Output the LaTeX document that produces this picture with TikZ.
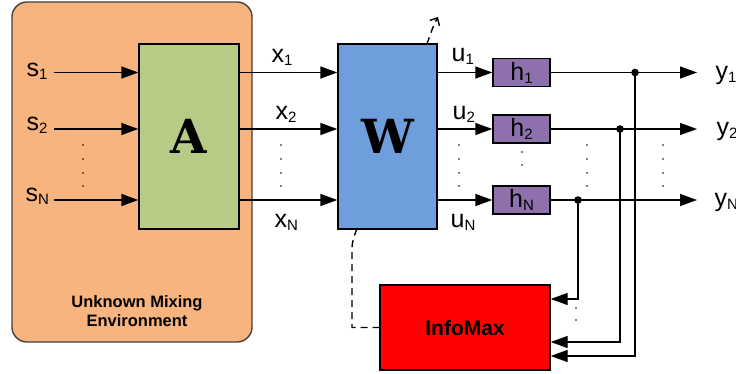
\documentclass[tikz,border=0pt]{standalone}
\usepackage{fontspec}
\setmainfont{Liberation Sans}
\newfontfamily\bigserif{DejaVu Serif}
\usetikzlibrary{arrows.meta}
\definecolor{envorange}{HTML}{F8B47E}
\definecolor{envedge}{HTML}{404040}
\definecolor{agreen}{HTML}{B8CB86}
\definecolor{wblue}{HTML}{6E9EDB}
\definecolor{hpurple}{HTML}{8E70AC}
\definecolor{imred}{HTML}{FF0000}
\newcommand\lbl[2]{{\fontsize{25}{25}\selectfont #1\raisebox{-3pt}{\fontsize{15}{15}\selectfont #2}}}
\begin{document}
\begin{tikzpicture}[x=1pt,y=-1pt,line width=1.4pt,
  arr/.style={-{Triangle[length=17pt,width=12pt]}},
  blk/.style={draw=black,line width=1.4pt,inner sep=0pt},
  lab/.style={inner sep=0pt,anchor=base west},
  dotmark/.style={fill=black}]
\useasboundingbox (0,0) rectangle (736,374);
% environment
\node[draw=envedge,fill=envorange,rounded corners=15pt,minimum width=240pt,minimum height=340pt,line width=1.4pt] (env) at (132,172) {};
\node[inner sep=0pt,align=center,font=\fontsize{16.5}{19.5}\selectfont\bfseries] (envtext) at (137,311) {Unknown Mixing\\Environment};
% blocks
\node[blk,fill=agreen,minimum width=100pt,minimum height=185pt,font=\bigserif\bfseries\fontsize{47}{47}\selectfont] (A) at (189,136.5) {A};
\node[blk,fill=wblue,minimum width=99pt,minimum height=185pt,font=\bigserif\bfseries\fontsize{47}{47}\selectfont] (W) at (387.5,136.5) {W};
\node[blk,fill=hpurple,minimum width=57pt,minimum height=28pt] (h1) at (521.5,72.5) {\lbl{h}{1}};
\node[blk,fill=hpurple,minimum width=57pt,minimum height=28pt] (h2) at (521.5,129) {\lbl{h}{2}};
\node[blk,fill=hpurple,minimum width=57pt,minimum height=28pt] (hN) at (521.5,200) {\lbl{h}{N}};
\node[blk,fill=imred,minimum width=170pt,minimum height=85pt,font=\fontsize{21}{21}\selectfont\bfseries] (IM) at (465,327.5) {InfoMax};
% source coordinates
\coordinate (s1) at (54,72.5);
\coordinate (s2) at (54,129);
\coordinate (sN) at (54,200);
\draw[arr] (s1) -- (A.west |- s1);
\draw[arr] (s2) -- (A.west |- s2);
\draw[arr] (sN) -- (A.west |- sN);
\draw[arr] (A.east |- s1) -- (W.west |- s1);
\draw[arr] (A.east |- s2) -- (W.west |- s2);
\draw[arr] (A.east |- sN) -- (W.west |- sN);
\draw[arr] (W.east |- h1) -- (h1.west);
\draw[arr] (W.east |- h2) -- (h2.west);
\draw[arr] (W.east |- hN) -- (hN.west);
% outputs
\coordinate (o1) at (697,72.5);
\coordinate (o2) at (697,129);
\coordinate (oN) at (697,200);
\coordinate (j1) at (635,72.5);
\coordinate (j2) at (620,129);
\coordinate (jN) at (578,200);
\draw[arr] (h1.east) -- (o1);
\draw[arr] (h2.east) -- (o2);
\draw[arr] (hN.east) -- (oN);
\draw[arr] (jN) |- (IM.east |- 0,299);
\draw[arr] (j2) |- (IM.east |- 0,342);
\draw[arr] (j1) |- (IM.east |- 0,356);
\fill (j1) circle (3.8pt);
\fill (j2) circle (3.8pt);
\fill (jN) circle (3.8pt);
% dashed adaptation
\coordinate (wt) at (427,44);
\coordinate (wtip) at (438,17);
\draw[dash pattern=on 7pt off 5pt,-{Straight Barb[length=6pt,width=11pt]}] (wt) .. controls (430,35) and (433,26) .. (wtip);
\coordinate (wb) at (357,229);
\draw[dash pattern=on 7pt off 5pt] (wb) .. controls (354,236) and (352,241) .. (352,250) -- (352,327.5) -- (IM.west);
% labels
\node[lab] (ls1) at (26,77) {\lbl{s}{1}};
\node[lab] (ls2) at (26,131) {\lbl{s}{2}};
\node[lab] (lsN) at (25,202) {\lbl{s}{N}};
\node[lab] (lx1) at (271,63) {\lbl{x}{1}};
\node[lab] (lx2) at (275,120) {\lbl{x}{2}};
\node[lab] (lxN) at (274,227) {\lbl{x}{N}};
\node[lab] (lu1) at (451,62) {\lbl{u}{1}};
\node[lab] (lu2) at (452,120) {\lbl{u}{2}};
\node[lab] (luN) at (450,227) {\lbl{u}{N}};
\node[lab] (ly1) at (715,80) {\lbl{y}{1}};
\node[lab] (ly2) at (716,136) {\lbl{y}{2}};
\node[lab] (lyN) at (714,207) {\lbl{y}{N}};
% ellipsis dots
\foreach \x in {83,281,459,587,663}
  \foreach \y in {145,159,173,186}
    \fill (\x,\y) circle (0.8pt);
\fill (522,152) circle (0.8pt);
\fill (522,165) circle (0.8pt);
\fill (576,308) circle (0.8pt);
\fill (576,320) circle (0.8pt);
\end{tikzpicture}
\end{document}
